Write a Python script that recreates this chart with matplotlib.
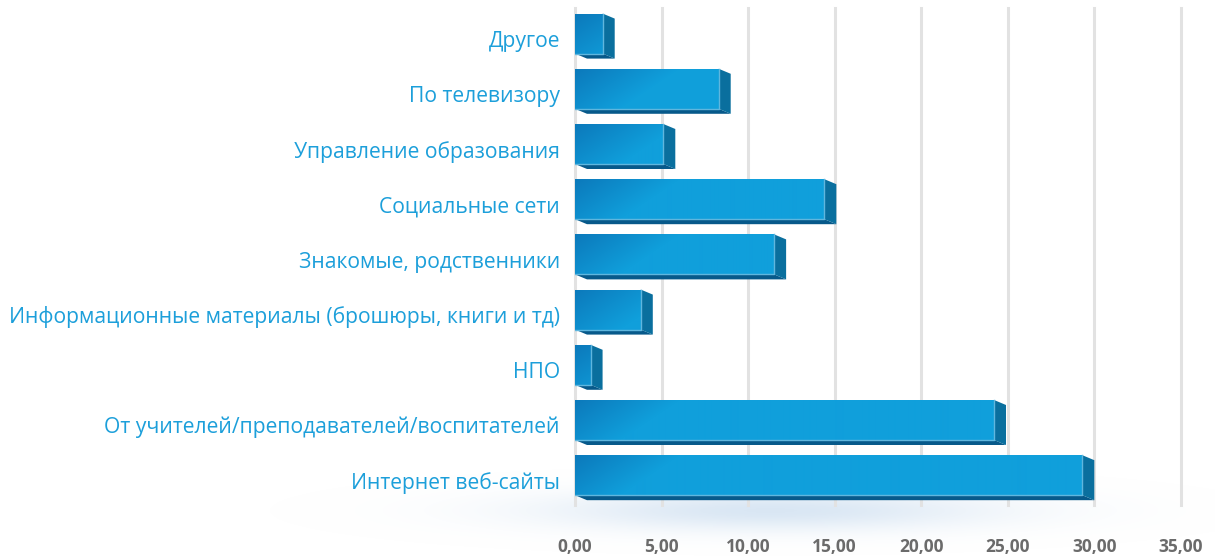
import matplotlib
matplotlib.use("Agg")
import matplotlib.pyplot as plt
import numpy as np
from matplotlib.patches import Polygon, Rectangle
from matplotlib.colors import to_rgb
from matplotlib.ticker import FuncFormatter

# categories listed bottom to top
categories = ["Интернет веб-сайты",
              "От учителей/преподавателей/воспитателей",
              "НПО",
              "Информационные материалы (брошюры, книги и тд)",
              "Знакомые, родственники",
              "Социальные сети",
              "Управление образования",
              "По телевизору",
              "Другое"]
values = [29.3, 24.2, 0.9, 3.8, 11.5, 14.4, 5.1, 8.3, 1.6]
xticks = [0, 5, 10, 15, 20, 25, 30, 35]

label_color = '#1c9fda'
front_dark = np.array(to_rgb('#0a6cb0'))
front_light = np.array(to_rgb('#109fdb'))
side_color = '#0a6f9e'
bottom_color = '#07598a'

W, H = 1215, 557
fig = plt.figure(figsize=(W / 100, H / 100), dpi=100)

# soft glow under the bars
bg = fig.add_axes([0, 0, 1, 1], zorder=0)
bg.set_xlim(0, W)
bg.set_ylim(H, 0)
bg.axis('off')
gx, gy = np.meshgrid(np.arange(W), np.arange(H))
glow = np.exp(-((gx - 770) / 220.0) ** 2 - ((gy - 510) / 20.0) ** 2)
rgba = np.zeros((H, W, 4))
rgba[..., :3] = to_rgb('#c9dcef')
rgba[..., 3] = 0.7 * glow
bg.imshow(rgba, extent=(0, W, H, 0), aspect='auto')

left_px, right_px = 575, 1181
bottom_px, step_px = 505, 55.2
ax = fig.add_axes([left_px / W, (H - bottom_px) / H,
                   (right_px - left_px) / W, 9 * step_px / H], zorder=1)
ax.patch.set_alpha(0)
ax.set_xlim(0, 35)
ax.set_ylim(-0.5, 8.5)

px_x = 35 / (right_px - left_px)
px_y = 1 / step_px
h = 40 * px_y
dx = 12 * px_x
dy = 5 * px_y

for xv in xticks:
    ax.axvline(xv, color='#e2e2e2', lw=2.2, zorder=0, clip_on=False)

for i, v in enumerate(values):
    y0 = i - h / 2 + 0.04
    y1 = y0 + h
    # bottom face
    ax.add_patch(Polygon([(0, y0), (v, y0), (v + dx, y0 - dy), (dx, y0 - dy)],
                         closed=True, fc=bottom_color, ec='none', zorder=2))
    # side face
    ax.add_patch(Polygon([(v, y1), (v + dx, y1 - dy), (v + dx, y0 - dy), (v, y0)],
                         closed=True, fc=side_color, ec='none', zorder=2))
    # front face with diagonal gradient
    wpx = max(int(round(v / px_x)), 2)
    hpx = 40
    u, w = np.meshgrid(np.arange(wpx), np.arange(hpx)[::-1])
    t = np.clip(0.25 + (u + 1.5 * (hpx - w)) / 140.0, 0, 1)
    img = front_dark[None, None, :] * (1 - t[..., None]) + front_light[None, None, :] * t[..., None]
    im = ax.imshow(img, extent=(0, v, y0, y1), aspect='auto', zorder=3,
                   interpolation='bilinear')
    clip = Rectangle((0, y0), v, h, transform=ax.transData)
    im.set_clip_path(clip)
    ax.plot([0, v, v], [y0, y0, y1], color='#5fb6de', lw=1, zorder=4)
    ax.text(-15 * px_x, i - 0.1, categories[i], ha='right', va='center',
            fontsize=15.2, color=label_color, family='Open Sans')

ax.set_xticks(xticks)
ax.xaxis.set_major_formatter(FuncFormatter(lambda x, p: f"{x:.2f}".replace('.', ',')))
ax.tick_params(axis='x', length=0, pad=24, labelsize=12.5, labelcolor='#6b6b6b')
for lab in ax.get_xticklabels():
    lab.set_fontweight('bold')
    lab.set_family('Open Sans')
ax.set_yticks([])
for s in ax.spines.values():
    s.set_visible(False)

fig.savefig('out.png', dpi=100)
